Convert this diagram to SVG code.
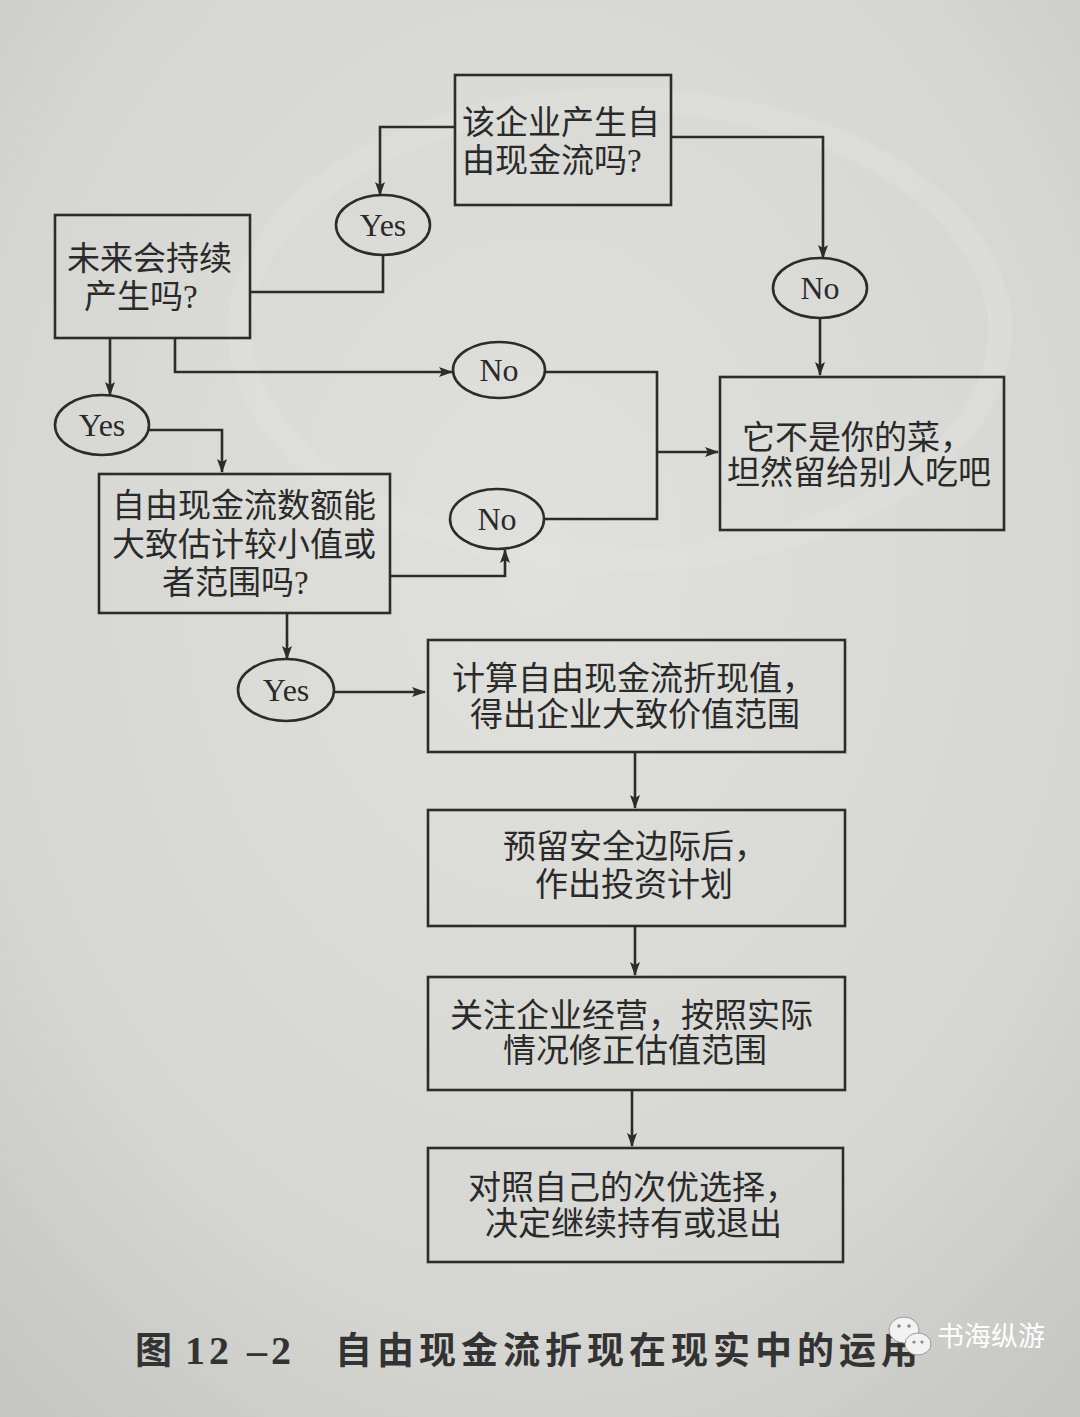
<svg xmlns="http://www.w3.org/2000/svg" width="1080" height="1417" viewBox="0 0 1080 1417">
<style>
.box{fill:none;stroke:#2c2c2c;stroke-width:2.6}
.ell{fill:none;stroke:#2c2c2c;stroke-width:2.6}
.cn{fill:none;stroke:#2c2c2c;stroke-width:2.6}
.t{font-family:"Liberation Serif","Noto Sans CJK SC",serif;font-size:33px;fill:#2a2a2a}
.yn{font-family:"Liberation Serif",serif;font-size:32px;fill:#2a2a2a;text-anchor:middle}
.cap{font-family:"Noto Sans CJK SC",sans-serif;font-weight:bold;font-size:37px;fill:#333}
.capn{font-family:"Liberation Serif",serif;font-weight:bold;font-size:40px;fill:#333}
.wm{font-family:"Noto Sans CJK SC",sans-serif;font-size:27px;fill:#ffffff}
</style>
<defs>
<radialGradient id="bg" cx="0.5" cy="0.4" r="0.75">
<stop offset="0" stop-color="#e0e0dd"/>
<stop offset="0.7" stop-color="#d6d6d3"/>
<stop offset="1" stop-color="#c6c6c3"/>
</radialGradient>
<marker id="ah" viewBox="0 0 14 10" refX="13" refY="5" markerWidth="14" markerHeight="10" markerUnits="userSpaceOnUse" orient="auto">
<path d="M0,0 L14,5 L0,10 L3,5 Z" fill="#2c2c2c"/>
</marker>
</defs>
<rect x="0" y="0" width="1080" height="1417" fill="url(#bg)"/>
<ellipse cx="620" cy="330" rx="380" ry="230" fill="none" stroke="#e4e4e1" stroke-width="24" opacity="0.3"/>

<g id="connectors">
<path class="cn" d="M455,127 H380 V195" marker-end="url(#ah)"/>
<path class="cn" d="M383,255 V292 H250"/>
<path class="cn" d="M110,338 V395" marker-end="url(#ah)"/>
<path class="cn" d="M175,338 V372 H452" marker-end="url(#ah)"/>
<path class="cn" d="M545,372 H657 V519 H544"/>
<path class="cn" d="M657,452 H718" marker-end="url(#ah)"/>
<path class="cn" d="M671,137 H823 V258" marker-end="url(#ah)"/>
<path class="cn" d="M820,318 V375" marker-end="url(#ah)"/>
<path class="cn" d="M149,430 H222 V472" marker-end="url(#ah)"/>
<path class="cn" d="M390,576 H505 V550" marker-end="url(#ah)"/>
<path class="cn" d="M287,613 V659" marker-end="url(#ah)"/>
<path class="cn" d="M334,692 H425" marker-end="url(#ah)"/>
<path class="cn" d="M635,752 V808" marker-end="url(#ah)"/>
<path class="cn" d="M635,926 V975" marker-end="url(#ah)"/>
<path class="cn" d="M632,1090 V1146" marker-end="url(#ah)"/>
</g>

<g id="q1">
<rect class="box" x="455" y="75" width="216" height="130"/>
<text class="t" x="462" y="134">该企业产生自</text>
<text class="t" x="462" y="172">由现金流吗?</text>
</g>
<g id="yes1">
<ellipse class="ell" cx="383" cy="225" rx="47" ry="30"/>
<text class="yn" x="383" y="236">Yes</text>
</g>
<g id="no3">
<ellipse class="ell" cx="820" cy="288" rx="47" ry="30"/>
<text class="yn" x="820" y="299">No</text>
</g>
<g id="q2">
<rect class="box" x="55" y="215" width="195" height="123"/>
<text class="t" x="67" y="270">未来会持续</text>
<text class="t" x="84" y="308">产生吗?</text>
</g>
<g id="yes2">
<ellipse class="ell" cx="102" cy="425" rx="47" ry="30"/>
<text class="yn" x="102" y="436">Yes</text>
</g>
<g id="no1">
<ellipse class="ell" cx="499" cy="370" rx="46" ry="28"/>
<text class="yn" x="499" y="381">No</text>
</g>
<g id="reject">
<rect class="box" x="720" y="377" width="284" height="153"/>
<text class="t" x="742" y="449">它不是你的菜，</text>
<text class="t" x="727" y="484">坦然留给别人吃吧</text>
</g>
<g id="q3">
<rect class="box" x="99" y="474" width="291" height="139"/>
<text class="t" x="112" y="517">自由现金流数额能</text>
<text class="t" x="112" y="556">大致估计较小值或</text>
<text class="t" x="162" y="594">者范围吗?</text>
</g>
<g id="no2">
<ellipse class="ell" cx="497" cy="519" rx="47" ry="30"/>
<text class="yn" x="497" y="530">No</text>
</g>
<g id="yes3">
<ellipse class="ell" cx="286" cy="690" rx="48" ry="31"/>
<text class="yn" x="286" y="701">Yes</text>
</g>
<g id="step1">
<rect class="box" x="428" y="640" width="417" height="112"/>
<text class="t" x="452" y="690">计算自由现金流折现值，</text>
<text class="t" x="470" y="726">得出企业大致价值范围</text>
</g>
<g id="step2">
<rect class="box" x="428" y="810" width="417" height="116"/>
<text class="t" x="503" y="858">预留安全边际后，</text>
<text class="t" x="535" y="896">作出投资计划</text>
</g>
<g id="step3">
<rect class="box" x="428" y="977" width="417" height="113"/>
<text class="t" x="450" y="1027">关注企业经营，按照实际</text>
<text class="t" x="503" y="1062">情况修正估值范围</text>
</g>
<g id="step4">
<rect class="box" x="428" y="1148" width="415" height="114"/>
<text class="t" x="468" y="1199">对照自己的次优选择，</text>
<text class="t" x="485" y="1235">决定继续持有或退出</text>
</g>

<g id="caption">
<text x="135" y="1364"><tspan class="cap">图</tspan><tspan class="capn" x="185" letter-spacing="4">12 –2</tspan></text>
<text class="cap" x="335" y="1364" letter-spacing="5">自由现金流折现在现实中的运用</text>
</g>
<g id="watermark">
<ellipse cx="904" cy="1330" rx="15" ry="13" fill="#f2f2f2" stroke="#999" stroke-width="1"/>
<ellipse cx="918" cy="1344" rx="13" ry="11" fill="#f2f2f2" stroke="#999" stroke-width="1"/>
<circle cx="899" cy="1326" r="1.8" fill="#888"/>
<circle cx="909" cy="1326" r="1.8" fill="#888"/>
<circle cx="914" cy="1342" r="1.6" fill="#888"/>
<circle cx="922" cy="1342" r="1.6" fill="#888"/>
<text class="wm" x="937" y="1346">书海纵游</text>
</g>
</svg>
